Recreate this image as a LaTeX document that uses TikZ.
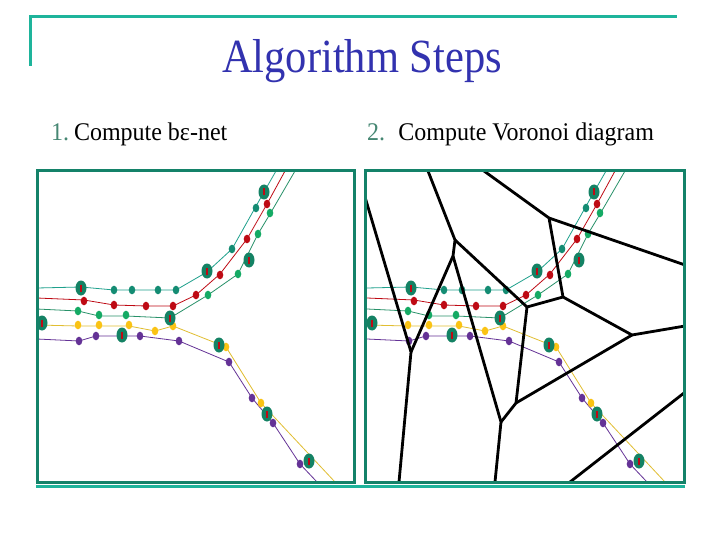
\documentclass[tikz,border=0pt]{standalone}
\usepackage{fontspec}
\usepackage{graphicx}
\setmainfont{Liberation Serif}
\definecolor{decoc}{RGB}{30,180,155}
\definecolor{boxc}{RGB}{20,130,105}
\definecolor{bigc}{RGB}{20,130,100}
\definecolor{tealc}{RGB}{30,160,140}
\definecolor{tealdotc}{RGB}{20,140,115}
\definecolor{redc}{RGB}{190,10,20}
\definecolor{greenc}{RGB}{20,170,100}
\definecolor{greenlc}{RGB}{40,145,105}
\definecolor{yellowc}{RGB}{250,195,20}
\definecolor{yellowlc}{RGB}{225,190,50}
\definecolor{purplec}{RGB}{100,50,150}
\definecolor{titlec}{RGB}{50,50,175}
\definecolor{numc}{RGB}{70,135,115}
\begin{document}
\begin{tikzpicture}[x=1pt,y=-1pt,
  curve/.style={line width=0.8pt, line join=round},
  vedge/.style={line width=2.8pt, black, line join=round},
  panelbox/.style={boxc, line width=3pt},
  subtitle/.style={anchor=base west, inner sep=0pt, font=\fontsize{24}{28}\selectfont}]
\useasboundingbox (0,0) rectangle (720,540);
\fill[white] (0,0) rectangle (720,540);
% decoration
\draw[decoc, line width=3pt] (30,66) -- (30,17) -- (677,17);
\draw[decoc, line width=2.5pt] (36,486.5) -- (685,486.5);
% titles
\node[text=titlec, font=\fontsize{42.5}{48}\selectfont, inner sep=0pt, anchor=base] (title) at (362,73) {\scalebox{1}[1.12]{Algorithm Steps}};
\node[subtitle] (s1) at (51,141) {\scalebox{1}[1.06]{\textcolor{numc}{1.}\hspace{0.2em}Compute bε-net}};
\node[subtitle] (s2) at (367,141) {\scalebox{1}[1.06]{\textcolor{numc}{2.}\hspace{0.55em}Compute Voronoi diagram}};
% panels
\foreach \s in {0,330} {
\begin{scope}[shift={(\s,0)}]
  \begin{scope}
  \clip (37,171) rectangle (354,482);
  \draw[curve, tealc] (37,288) -- (81,287) -- (114,290) -- (132,290) -- (158,290) -- (176,290) -- (207,272) -- (232,249) -- (255,208) -- (264,192) -- (276,171);
  \draw[curve, redc] (37,298) -- (84,300) -- (114,305) -- (146,306) -- (173,306) -- (196,295) -- (220,274) -- (247,239) -- (267,204) -- (285,171);
  \draw[curve, greenlc] (37,309) -- (78,311) -- (99,316) -- (126,316) -- (170,318) -- (208,295) -- (238,274) -- (258,234) -- (270,214) -- (295,171);
  \draw[curve, yellowlc] (37,325) -- (78,326) -- (99,326) -- (129,326) -- (155,331) -- (173,326) -- (226,347) -- (261,403) -- (335,482);
  \draw[curve, purplec] (37,339) -- (79,341) -- (96,336) -- (140,336) -- (179,341) -- (229,362) -- (252,398) -- (273,423) -- (300,464) -- (317,482);
  \foreach \p in {(114,290),(132,290),(158,290),(176,290),(232,249),(256,208)}
    \fill[tealdotc] \p ellipse[x radius=3.3, y radius=4.3];
  \foreach \p in {(84,301),(114,305),(146,306),(173,306),(196,295),(220,275),(247,239),(267,204)}
    \fill[redc] \p ellipse[x radius=3.3, y radius=4.3];
  \foreach \p in {(78,311),(99,315),(126,315),(208,295),(238,274),(258,234),(270,213)}
    \fill[greenc] \p ellipse[x radius=3.3, y radius=4.3];
  \foreach \p in {(78,325),(99,325),(129,325),(155,331),(173,326),(226,347),(261,403)}
    \fill[yellowc] \p ellipse[x radius=3.3, y radius=4.3];
  \foreach \p in {(79,341),(96,336),(140,336),(179,341),(229,362),(252,398),(273,423),(300,464)}
    \fill[purplec] \p ellipse[x radius=3.3, y radius=4.3];
  \foreach \p in {(81,288),(42,323),(122,335),(170,318),(207,271),(249,260),(264,192),(219,345),(267,414),(309,461)} {
    \fill[bigc] \p ellipse[x radius=5.5, y radius=7.5];
    \draw[redc, line width=1.5pt] \p ++(0,-3.5) -- ++(0,7);
  }
  \end{scope}
\end{scope}
}
% Voronoi diagram
\coordinate (A) at (411,352);
\coordinate (B) at (455,240);
\coordinate (B2) at (453,256);
\coordinate (C) at (501,422);
\coordinate (D) at (516,403);
\coordinate (E) at (527,307);
\coordinate (F) at (563,297);
\coordinate (G) at (549,218);
\coordinate (H) at (632,335);
\coordinate (l1) at (365,197);
\coordinate (b1) at (399,482);
\coordinate (b2) at (495,482);
\coordinate (t1) at (428,171);
\coordinate (t2) at (484,171);
\coordinate (r1) at (685,265);
\coordinate (r2) at (685,326);
\coordinate (b3) at (570,482);
\coordinate (r3) at (684,393);
\begin{scope}
\clip (365,171) rectangle (684,482);
\draw[vedge] (l1) -- (A) -- (b1);
\draw[vedge] (A) -- (B2) -- (B) -- (t1);
\draw[vedge] (B2) -- (C) -- (b2);
\draw[vedge] (C) -- (D) -- (E) -- (B);
\draw[vedge] (E) -- (F) -- (G) -- (t2);
\draw[vedge] (G) -- (r1);
\draw[vedge] (F) -- (H) -- (r2);
\draw[vedge] (D) -- (H);
\draw[vedge] (b3) -- (r3);
\end{scope}
% panel boxes
\draw[panelbox] (37,171) rectangle (354,482);
\draw[panelbox] (365,171) rectangle (684,482);
\end{tikzpicture}
\end{document}
